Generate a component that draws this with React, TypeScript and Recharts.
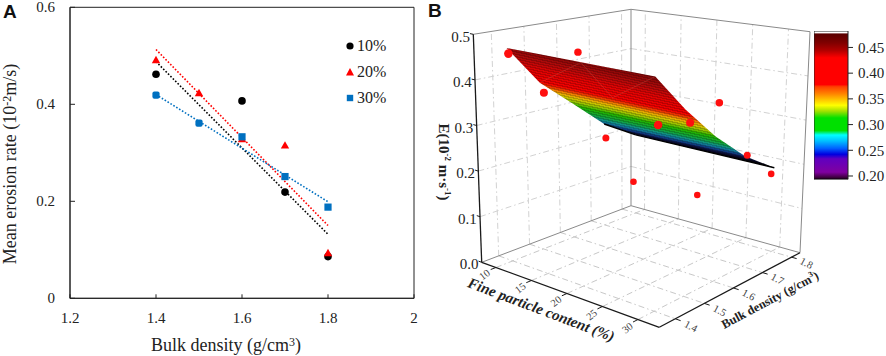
import React from "react";
import { ComposedChart, Line, Scatter, Area, Bar, XAxis, YAxis, ReferenceArea, Legend, Label } from "recharts";

const SERIF = "'Liberation Serif', serif";
const INK = "#222";

/* ---------- Panel A data ---------- */
const pctSeries = ["10%", "20%", "30%"];
const densityA = [1.4, 1.5, 1.6, 1.7, 1.8];
const density10 = [1.4, 1.6, 1.7, 1.8];
const rate10 = [0.462, 0.407, 0.219, 0.086];
const rate20 = [0.491, 0.423, 0.328, 0.315, 0.093];
const rate30 = [0.419, 0.361, 0.333, 0.251, 0.188];
const trendX = [1.4, 1.8];
const trend10 = [0.488, 0.132];
const trend20 = [0.513, 0.15];
const trend30 = [0.42, 0.199];
const xTicksA = [1.2, 1.4, 1.6, 1.8, 2];
const yTicksA = [0, 0.2, 0.4, 0.6];
const colorsA = ["#000000", "#ff0000", "#0070c0"];

/* ---------- Panel B data ---------- */
const finesTicks = [10, 15, 20, 25, 30];
const densityTicks = [1.4, 1.5, 1.6, 1.7, 1.8];
const heightTicks = [0, 0.1, 0.2, 0.3, 0.4, 0.5];
const surfaceDensity = [1.4, 1.5, 1.6, 1.7, 1.8];
const surfaceAt10 = [0.47, 0.378, 0.313, 0.244, 0.195];
const surfaceAt30 = [0.475, 0.388, 0.31, 0.243, 0.19];
const ptFines = [10, 10, 10, 10, 10, 30, 30, 30, 30, 30, 19];
const ptDensity = [1.405, 1.512, 1.62, 1.705, 1.793, 1.41, 1.515, 1.61, 1.707, 1.79, 1.8];
const ptRate = [0.457, 0.353, 0.43, 0.209, 0.08, 0.375, 0.358, 0.38, 0.243, 0.179, 0.084];
const meshFines = [10, 20, 20, 30];
const meshDensity = [1.5, 1.4, 1.5, 1.4];
const meshRate = [0.378, 0.472, 0.38, 0.475];

const surfaceStops: [number, string][] = [
  [0, "#7d0606"], [0.14, "#a80a0a"], [0.3, "#dd0303"], [0.47, "#f00000"], [0.52, "#e83a00"],
  [0.56, "#ee8a00"], [0.61, "#d8c000"], [0.67, "#90c000"], [0.73, "#20b000"], [0.81, "#10a040"],
  [0.87, "#108898"], [0.92, "#103880"], [0.955, "#0a0a30"], [1, "#000000"],
];
const barStops: [number, string][] = [
  [0, "#ffffff"], [0.012, "#ffffff"], [0.02, "#5a0000"], [0.08, "#800000"], [0.13, "#b00000"],
  [0.18, "#ff0000"], [0.36, "#ff0000"], [0.375, "#ff4000"], [0.42, "#ff8000"], [0.47, "#ffd000"],
  [0.5, "#ffff00"], [0.54, "#a0e000"], [0.585, "#00e000"], [0.67, "#00e000"], [0.7, "#00ffff"],
  [0.74, "#00c0ff"], [0.79, "#0060ff"], [0.83, "#0000e0"], [0.86, "#6000c0"], [0.95, "#8000a0"],
  [0.985, "#400040"], [1, "#000000"],
];
const barTicks = [0.2, 0.25, 0.3, 0.35, 0.4, 0.45];
const barRange = [0.193, 0.482];

/* ---------- camera model of the 3D box (panel B), page pixels ---------- */
const FL = [481.7, 262.3], FF = [659.3, 327.3], FR = [800, 252.7], FB = [631, 205.7];
const TL = [473.3, 34.3], TF = [660.7, 73.3], TR = [810, 31.7], TB = [631, 9.3];
const X0 = 425, X1 = 830, H = 356;
const uOf = (f: number) => 0.08 + (f - 10) * 0.04;
const vOf = (d: number) => 0.114 + (d - 1.4) * 2.065;
const project3 = (u: number, v: number, w: number) => {
  const k = [(1 - u) * (1 - v), u * (1 - v), u * v, (1 - u) * v];
  const bl = (a: number[], b: number[], c: number[], d: number[], i: number) =>
    a[i] * k[0] + b[i] * k[1] + c[i] * k[2] + d[i] * k[3];
  const fx = bl(FL, FF, FR, FB, 0), fy = bl(FL, FF, FR, FB, 1);
  const tx = bl(TL, TF, TR, TB, 0), ty = bl(TL, TF, TR, TB, 1);
  return { x: fx + (tx - fx) * w, y: fy + (ty - fy) * w };
};
const project = (f: number, d: number, e: number) => project3(uOf(f), vOf(d), e / 0.5);
const seg = (a: { x: number; y: number }, b: { x: number; y: number }) => [a, b];

/* box frame */
const frameBold = [
  seg(project3(0, 0, 0), project3(1, 0, 0)),
  seg(project3(1, 0, 0), project3(1, 1, 0)),
  seg(project3(0, 0, 0), project3(0, 0, 1)),
];
const frameGrey = [
  seg(project3(0, 0, 1), project3(0, 1, 1)),
  seg(project3(0, 1, 1), project3(1, 1, 1)),
  seg(project3(0, 1, 0), project3(0, 1, 1)),
  seg(project3(1, 1, 0), project3(1, 1, 1)),
  seg(project3(0, 0, 0), project3(0, 1, 0)),
  seg(project3(0, 1, 0), project3(1, 1, 0)),
];
/* grid lines on walls and floor */
const gridWalls = [
  ...densityTicks.map((d) => seg(project3(0, vOf(d), 0), project3(0, vOf(d), 1))),
  ...finesTicks.map((f) => seg(project3(uOf(f), 1, 0), project3(uOf(f), 1, 1))),
  ...heightTicks.slice(1, 5).map((e) => seg(project3(0, 0, e / 0.5), project3(0, 1, e / 0.5))),
  ...heightTicks.slice(1, 5).map((e) => seg(project3(0, 1, e / 0.5), project3(1, 1, e / 0.5))),
];
const gridFloor = [
  ...densityTicks.map((d) => seg(project3(0, vOf(d), 0), project3(1, vOf(d), 0))),
  ...finesTicks.map((f) => seg(project3(uOf(f), 0, 0), project3(uOf(f), 1, 0))),
];
const tickMarks = [
  ...finesTicks.map((f) => seg(project3(uOf(f), 0, 0), project3(uOf(f), -0.035, 0))),
  ...densityTicks.map((d) => seg(project3(1, vOf(d), 0), project3(1.03, vOf(d), 0))),
  ...heightTicks.map((e) => seg(project3(0, 0, e / 0.5), project3(-0.018, 0, e / 0.5))),
];
const meshLines = meshFines.slice(1).map((_, i) =>
  seg(project(meshFines[i], meshDensity[i], meshRate[i]), project(meshFines[i + 1], meshDensity[i + 1], meshRate[i + 1])));

/* surface outline on the picture plane */
const upper = [
  project(10, 1.4, surfaceAt10[0]),
  ...surfaceDensity.map((d, i) => project(30, d, surfaceAt30[i])),
];
const lower = [
  ...surfaceDensity.map((d, i) => project(10, d, surfaceAt10[i])),
  project(30, 1.8, surfaceAt30[4]),
];
const lowerEdge = [seg(lower[3], lower[4]), seg(lower[4], lower[5])];
const yOn = (poly: { x: number; y: number }[], x: number) => {
  for (let i = 0; i < poly.length - 1; i++) {
    if (x >= poly[i].x && x <= poly[i + 1].x) {
      const t = (x - poly[i].x) / (poly[i + 1].x - poly[i].x || 1);
      return poly[i].y + (poly[i + 1].y - poly[i].y) * t;
    }
  }
  return poly[poly.length - 1].y;
};
const surfaceRows = [...upper, ...lower]
  .map((p) => p.x)
  .sort((a, b) => a - b)
  .map((x) => ({ x, band: [yOn(upper, x), yOn(lower, x)] }));

const redPoints = ptFines.map((f, i) => ({ ...project(f, ptDensity[i], ptRate[i]), r: 4.3 - (ptDensity[i] - 1.4) * 2.6 }));
const heightLabels = heightTicks.map((e) => {
  const p = project3(-0.018, 0, e / 0.5);
  return { x: p.x, y: p.y + 3, text: e.toFixed(1) };
});
const finesLabels = finesTicks.map((f) => {
  const p = project3(uOf(f) + 0.02, -0.1, 0);
  return { x: p.x, y: p.y, text: String(f) };
});
const densityLabels = densityTicks.map((d) => {
  const p = project3(1.1, vOf(d) - 0.015, 0);
  return { x: p.x, y: p.y, text: d.toFixed(1) };
});

/* ---------- helpers ---------- */
const Circle = (p: any) => <circle cx={p.cx} cy={p.cy} r={3.8} fill={colorsA[0]} />;
const Tri = (p: any) => <path d={`M${p.cx} ${p.cy - 4.4}L${p.cx + 4.2} ${p.cy + 3}L${p.cx - 4.2} ${p.cy + 3}Z`} fill={colorsA[1]} />;
const Sq = (p: any) => <rect x={p.cx - 3.6} y={p.cy - 3.6} width={7.2} height={7.2} rx={p.payload.x <= 1.5 ? 2 : 0} fill={colorsA[2]} />;

const BOX = { l: 70, r: 414, t: 7.3, b: 298.3 };
const XTickA = (p: any) => (
  <g>
    <line x1={p.x} x2={p.x} y1={BOX.b} y2={BOX.b - 4} stroke={INK} />
    <text x={p.x} y={323} textAnchor="middle" fontFamily={SERIF} fontSize={15} fill={INK}>{String(p.payload.value)}</text>
  </g>
);
const YTickA = (p: any) => (
  <g>
    <line x1={BOX.l} x2={BOX.l + 5} y1={p.y} y2={p.y} stroke={INK} />
    <text x={55} y={p.y + 5} textAnchor="end" fontFamily={SERIF} fontSize={15} fill={INK}>{String(p.payload.value)}</text>
  </g>
);
const LegendA = () => (
  <div style={{ fontFamily: SERIF, fontSize: 16, color: INK }}>
    {pctSeries.map((name, i) => (
      <div key={name} style={{ height: 26, display: "flex", alignItems: "center" }}>
        <svg width={10} height={10} style={{ marginRight: 2 }}>
          {i === 0 && <circle cx={5} cy={5} r={3.6} fill={colorsA[0]} />}
          {i === 1 && <path d="M5 1L9 8.5L1 8.5Z" fill={colorsA[1]} />}
          {i === 2 && <rect x={1.8} y={1.8} width={6.4} height={6.4} fill={colorsA[2]} />}
        </svg>
        <span>{name}</span>
      </div>
    ))}
  </div>
);

const Plane = ({ children, data }: any) => (
  <div style={{ position: "absolute", left: X0, top: 0 }}>
    <ComposedChart width={X1 - X0} height={H} data={data} margin={{ top: 0, right: 0, bottom: 0, left: 0 }}>
      <XAxis hide type="number" dataKey="x" domain={[X0, X1]} allowDataOverflow />
      <YAxis hide type="number" dataKey="y" domain={[0, H]} reversed width={0} allowDataOverflow />
      {children}
    </ComposedChart>
  </div>
);
const segLines = (list: any[], key: string, props: any) =>
  list.map((d, i) => <Line key={key + i} data={d} dataKey="y" dot={false} legendType="none" isAnimationActive={false} {...props} />);
const labelShape = (size: number, anchor: string, rot: number, fill: string) => (p: any) => (
  <text x={p.cx} y={p.cy} textAnchor={anchor as any} dominantBaseline="central" fontFamily={SERIF} fontSize={size} fill={fill}
    transform={rot ? `rotate(${rot} ${p.cx} ${p.cy})` : undefined}>{p.payload.text}</text>
);
const Dot = (p: any) => <circle cx={p.cx} cy={p.cy} r={p.payload.r} fill="#ff0f0f" />;
const Gx = (g: number) => g - X0;

const titleStyle = (left: number, top: number, rot: number, extra: any = {}): any => ({
  position: "absolute", left, top, transform: `translate(-50%,-50%) rotate(${rot}deg)`, whiteSpace: "nowrap",
  fontFamily: SERIF, fontWeight: 700, color: INK, ...extra,
});

export default function App() {
  const trend = (ys: number[]) => trendX.map((x, i) => ({ x, y: ys[i] }));
  const pts = (ys: number[]) => densityA.map((x, i) => ({ x, y: ys[i] }));
  return (
    <div style={{ position: "absolute", left: 0, top: 0, width: 886, height: 356, background: "#fff", overflow: "hidden" }}>
      {/* Panel A */}
      <div style={{ position: "absolute", left: 0, top: 0 }}>
        <ComposedChart width={430} height={356} margin={{ top: BOX.t, right: 430 - BOX.r, bottom: 0, left: 0 }}>
          <XAxis type="number" dataKey="x" domain={[1.2, 2]} ticks={xTicksA} tickLine={false} tick={<XTickA />} stroke={INK} height={356 - BOX.b} interval={0}>
            <Label content={() => (
              <text x={226} y={351} textAnchor="middle" fontFamily={SERIF} fontSize={18} fill={INK}>
                Bulk density (g/cm<tspan dy={-5} fontSize={12}>3</tspan><tspan dy={5}>)</tspan>
              </text>
            )} />
          </XAxis>
          <YAxis type="number" dataKey="y" domain={[0, 0.6]} ticks={yTicksA} tickLine={false} tick={<YTickA />} stroke={INK} width={BOX.l} interval={0}>
            <Label content={() => (
              <text transform="translate(16 164) rotate(-90)" textAnchor="middle" fontFamily={SERIF} fontSize={18} fill={INK}>
                Mean erosion rate (10<tspan dy={-5} fontSize={12}>-2</tspan><tspan dy={5}>m/s)</tspan>
              </text>
            )} />
          </YAxis>
          <ReferenceArea x1={1.2} x2={2} y1={0} y2={0.6} fill="none" stroke={INK} strokeWidth={1} />
          <Line data={trend(trend10)} dataKey="y" stroke={colorsA[0]} strokeWidth={1.6} strokeDasharray="1.6 1.8" dot={false} isAnimationActive={false} legendType="none" />
          <Line data={trend(trend20)} dataKey="y" stroke={colorsA[1]} strokeWidth={1.6} strokeDasharray="1.6 1.8" dot={false} isAnimationActive={false} legendType="none" />
          <Line data={trend(trend30)} dataKey="y" stroke={colorsA[2]} strokeWidth={1.6} strokeDasharray="1.6 1.8" dot={false} isAnimationActive={false} legendType="none" />
          <Scatter name={pctSeries[0]} data={density10.map((x, i) => ({ x, y: rate10[i] }))} dataKey="y" shape={<Circle />} isAnimationActive={false} />
          <Scatter name={pctSeries[1]} data={pts(rate20)} dataKey="y" shape={<Tri />} isAnimationActive={false} />
          <Scatter name={pctSeries[2]} data={pts(rate30)} dataKey="y" shape={<Sq />} isAnimationActive={false} />
          <Legend content={<LegendA />} layout="horizontal" verticalAlign="middle" align="center" wrapperStyle={{ position: "absolute", left: 345, top: 33, width: 60, height: 80 }} />
        </ComposedChart>
      </div>

      {/* Panel B: box and grid */}
      <Plane>
        {segLines(gridWalls, "w", { stroke: "#d2d2d2", strokeWidth: 1, strokeDasharray: "6 3 1.5 3" })}
        {segLines(gridFloor, "f", { stroke: "#c8c8c8", strokeWidth: 1, strokeDasharray: "6 3 1.5 3" })}
        {segLines(frameGrey, "g", { stroke: "#8a8a8a", strokeWidth: 1 })}
        {segLines(frameBold, "b", { stroke: "#1a1a1a", strokeWidth: 1.3 })}
        {segLines(tickMarks, "t", { stroke: "#1a1a1a", strokeWidth: 1 })}
      </Plane>

      {/* Panel B: surface */}
      <Plane data={surfaceRows}>
        <defs>
          <linearGradient id="surf" gradientUnits="userSpaceOnUse" x1={Gx(580)} y1={60.3} x2={Gx(566.5)} y2={121.6}>
            {surfaceStops.map(([o, c]) => <stop key={o} offset={o} stopColor={c} />)}
          </linearGradient>
          <linearGradient id="stripe" gradientUnits="userSpaceOnUse" spreadMethod="repeat" x1={Gx(580)} y1={60.3} x2={Gx(579.5)} y2={62.6}>
            <stop offset={0} stopColor="#000" stopOpacity={0.2} />
            <stop offset={0.5} stopColor="#000" stopOpacity={0.2} />
            <stop offset={0.5} stopColor="#000" stopOpacity={0} />
            <stop offset={1} stopColor="#000" stopOpacity={0} />
          </linearGradient>
        </defs>
        <Area type="linear" dataKey="band" stroke="none" fill="url(#surf)" fillOpacity={1} isAnimationActive={false} dot={false} activeDot={false} />
        <Area type="linear" dataKey="band" stroke="none" fill="url(#stripe)" fillOpacity={1} isAnimationActive={false} dot={false} activeDot={false} />
      </Plane>

      {/* Panel B: overlay */}
      <Plane>
        {segLines(meshLines, "m", { stroke: "#d87a68", strokeWidth: 0.7, strokeOpacity: 0.35 })}
        {segLines(lowerEdge, "e", { stroke: "#000", strokeWidth: 1.4 })}
        <Scatter data={redPoints} dataKey="y" shape={Dot} isAnimationActive={false} />
        <Scatter data={heightLabels} dataKey="y" shape={labelShape(15, "end", 0, INK)} isAnimationActive={false} />
        <Scatter data={finesLabels} dataKey="y" shape={labelShape(10.5, "middle", -38, "#444")} isAnimationActive={false} />
        <Scatter data={densityLabels} dataKey="y" shape={labelShape(10.5, "middle", 28, "#444")} isAnimationActive={false} />
      </Plane>

      {/* Colour scale */}
      <div style={{ position: "absolute", left: 814, top: 20.7 }}>
        <ComposedChart width={72} height={168.6} data={[{ x: "E", y: barRange }]} margin={{ top: 10, right: 0, bottom: 10, left: 0 }} barCategoryGap={0}>
          <defs>
            <linearGradient id="cb" x1={0} y1={0} x2={0} y2={1}>
              {barStops.map(([o, c]) => <stop key={o} offset={o} stopColor={c} />)}
            </linearGradient>
          </defs>
          <XAxis hide dataKey="x" type="category" />
          <YAxis orientation="right" domain={barRange} ticks={barTicks} width={38} axisLine={false} tickSize={5} tickMargin={5} allowDataOverflow interval={0}
            tick={{ fontFamily: SERIF, fontSize: 15, fill: INK }} tickFormatter={(v: number) => v.toFixed(2)} stroke={INK} />
          <Bar dataKey="y" fill="url(#cb)" stroke={INK} strokeWidth={1} isAnimationActive={false} />
        </ComposedChart>
      </div>

      {/* Titles and panel letters */}
      <div style={titleStyle(541, 310, 20.7, { fontSize: 15, fontStyle: "italic" })}>Fine particle content (%)</div>
      <div style={titleStyle(770, 300, -28, { fontSize: 12.5 })}>Bulk density (g/cm<sup style={{ fontSize: 8 }}>3</sup>)</div>
      <div style={titleStyle(444, 162, 90, { fontSize: 15 })}>E(10<sup style={{ fontSize: 9 }}>-2</sup> m·s<sup style={{ fontSize: 9 }}>-1</sup>)</div>
      <div style={{ position: "absolute", left: 3, top: 1, fontFamily: "'Liberation Sans', sans-serif", fontWeight: 700, fontSize: 19, color: "#111" }}>A</div>
      <div style={{ position: "absolute", left: 428, top: 0, fontFamily: "'Liberation Sans', sans-serif", fontWeight: 700, fontSize: 19, color: "#111" }}>B</div>
    </div>
  );
}
